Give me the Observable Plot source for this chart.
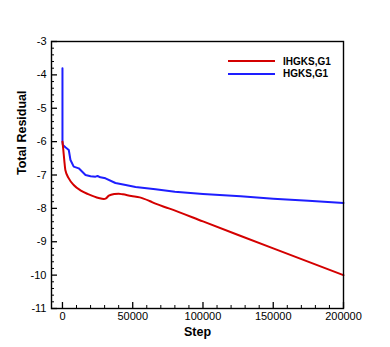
<!DOCTYPE html>
<html>
<head>
<meta charset="utf-8">
<script src="https://cdn.jsdelivr.net/npm/d3@7"></script>
<script src="https://cdn.jsdelivr.net/npm/@observablehq/plot@0.6"></script>
<style>
  body { margin: 0; background: #fff; }
  #wrap { position: relative; width: 390px; height: 347px; font-family: "Liberation Sans", Arial, sans-serif; }
  #legend { position: absolute; left: 228px; top: 55px; font: bold 10px "Liberation Sans", Arial, sans-serif; color: #000; }
  .row { display: flex; align-items: center; height: 12.5px; }
  .sw { width: 47px; height: 2px; margin-right: 8px; }
</style>
</head>
<body>
<div id="wrap"></div>
<script>
const ihgksStep = [0, 500, 1300, 2100, 4500, 8000, 12800, 18700, 25800, 29400, 31000, 33000, 37000, 40000, 43000, 49000, 55000, 62000, 66200, 75700, 100000, 150000, 200000];
const ihgksRes  = [-6.0, -6.2, -6.56, -6.86, -7.1, -7.3, -7.46, -7.58, -7.69, -7.72, -7.7, -7.62, -7.57, -7.56, -7.58, -7.63, -7.67, -7.78, -7.86, -8.0, -8.39, -9.2, -10.0];

const hgksStep = [0, 0, 300, 2100, 4500, 5700, 8000, 11600, 16400, 20000, 23500, 25000, 27000, 30600, 37700, 45000, 52000, 66200, 80000, 100000, 126800, 150000, 175000, 200000];
const hgksRes  = [-3.8, -6.0, -6.1, -6.17, -6.25, -6.55, -6.75, -6.8, -7.0, -7.04, -7.05, -7.03, -7.07, -7.1, -7.24, -7.3, -7.36, -7.43, -7.5, -7.57, -7.64, -7.71, -7.77, -7.84];

const seriesNames = ["IHGKS,G1", "HGKS,G1"];
const seriesColors = ["#d40000", "#1e1eff"];

const xMajor = [0, 50000, 100000, 150000, 200000];
const xMinor = d3.range(10000, 200000, 10000).filter(v => v % 50000 !== 0);
const yMajor = [-11, -10, -9, -8, -7, -6, -5, -4, -3];
const yMinor = d3.range(-10.8, -3, 0.2).map(v => +v.toFixed(1)).filter(v => Math.abs(v - Math.round(v)) > 1e-6);

const red = ihgksStep.map((s, i) => ({step: s, res: ihgksRes[i]}));
const blue = hgksStep.map((s, i) => ({step: s, res: hgksRes[i]}));

const chart = Plot.plot({
  width: 390,
  height: 347,
  marginLeft: 51,
  marginRight: 47,
  marginTop: 41,
  marginBottom: 39,
  style: { fontFamily: "Liberation Sans, Arial, sans-serif", fontSize: "11px", color: "#000", background: "#fff" },
  x: { domain: [-7800, 200000] },
  y: { domain: [-11, -3] },
  marks: [
    Plot.axisX({ ticks: xMajor, tickSize: 0, tickPadding: 4, tickFormat: d => String(d), fontSize: 11, label: null }),
    Plot.axisX({ ticks: xMajor, tickSize: -6, tickFormat: () => "", label: null, strokeWidth: 1.3 }),
    Plot.axisX({ ticks: xMinor, tickSize: -3, tickFormat: () => "", label: null }),
    Plot.axisY({ ticks: yMajor, tickSize: 0, tickPadding: 5, tickFormat: d => String(d), fontSize: 11, label: null }),
    Plot.axisY({ ticks: yMajor, tickSize: -6, tickFormat: () => "", label: null, strokeWidth: 1.3 }),
    Plot.axisY({ ticks: yMinor, tickSize: -3, tickFormat: () => "", label: null }),
    Plot.text(["Step"], { frameAnchor: "bottom", dy: 27, fontWeight: "bold", fontSize: 12.5 }),
    Plot.text(["Total Residual"], { frameAnchor: "left", dx: -30, rotate: -90, fontWeight: "bold", fontSize: 12.5 }),
    Plot.line(blue, { x: "step", y: "res", stroke: seriesColors[1], strokeWidth: 2 }),
    Plot.line(red, { x: "step", y: "res", stroke: seriesColors[0], strokeWidth: 2, curve: "monotone-x" }),
    Plot.frame({ stroke: "#000", strokeWidth: 1.4 })
  ]
});

const wrap = document.getElementById("wrap");
wrap.appendChild(chart);
const legend = document.createElement("div");
legend.id = "legend";
seriesNames.forEach((n, i) => {
  const row = document.createElement("div");
  row.className = "row";
  const sw = document.createElement("div");
  sw.className = "sw";
  sw.style.background = seriesColors[i];
  const t = document.createElement("span");
  t.textContent = n;
  row.appendChild(sw);
  row.appendChild(t);
  legend.appendChild(row);
});
wrap.appendChild(legend);
</script>
</body>
</html>
